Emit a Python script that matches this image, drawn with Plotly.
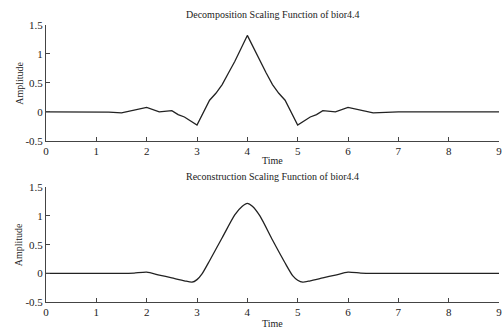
import plotly.graph_objects as go
from plotly.subplots import make_subplots

# Decomposition scaling function
dec_t = [0, 1.0, 1.25, 1.5, 2.0, 2.25, 2.5, 2.625, 2.75, 3.0, 3.25, 3.375, 3.5, 3.625, 3.75, 4.0,
         4.25, 4.375, 4.5, 4.625, 4.75, 5.0, 5.25, 5.375, 5.5, 5.75, 6.0, 6.5, 7.0, 9.0]
dec_y = [0, 0.0, -0.005, -0.02, 0.075, 0.0, 0.02, -0.05, -0.09, -0.23, 0.2, 0.32, 0.47, 0.67, 0.87, 1.32,
         0.87, 0.67, 0.47, 0.32, 0.2, -0.23, -0.09, -0.05, 0.02, 0.0, 0.075, -0.02, 0.0, 0.0]

# Reconstruction scaling function
rec_t = [0, 1.0, 1.5, 1.75, 2.0, 2.25, 2.5, 2.75, 2.9, 3.0, 3.1, 3.25, 3.5, 3.75, 3.9, 4.0,
         4.1, 4.25, 4.5, 4.75, 4.9, 5.0, 5.1, 5.25, 5.5, 5.75, 6.0, 6.25, 6.5, 7.0, 9.0]
rec_y = [0, 0.0, 0.0, 0.005, 0.02, -0.03, -0.08, -0.13, -0.155, -0.11, -0.01, 0.22, 0.62, 1.02, 1.17, 1.22,
         1.17, 1.0, 0.58, 0.18, -0.04, -0.12, -0.155, -0.13, -0.08, -0.03, 0.02, 0.005, 0.0, 0.0, 0.0]

x_ticks = [0, 1, 2, 3, 4, 5, 6, 7, 8, 9]
y_ticks = [-0.5, 0, 0.5, 1, 1.5]
y_ticktext = ["-0.5", "0", "0.5", "1", "1.5"]

title_top = "Decomposition Scaling Function of bior4.4"
title_bot = "Reconstruction Scaling Function of bior4.4"

W, H = 503, 329
ml, mr, mt, mb = 45.5, 1, 25, 27
pw = W - ml - mr
ph = H - mt - mb

def py(p):
    return (H - mb - p) / ph

def px(p):
    return (p - ml) / pw

fig = make_subplots(rows=2, cols=1)
fig.add_trace(go.Scatter(x=dec_t, y=dec_y, mode="lines",
                         line=dict(color="#222222", width=1.3)), row=1, col=1)
fig.add_trace(go.Scatter(x=rec_t, y=rec_y, mode="lines", line_shape="spline",
                         line=dict(color="#222222", width=1.3, smoothing=0.6)), row=2, col=1)

font = dict(family="Liberation Serif, Times New Roman, serif", size=10, color="#222")
tfont = dict(family="Liberation Serif, Times New Roman, serif", size=11, color="#222")

axis_common = dict(showline=True, linecolor="#444", linewidth=1, mirror=False,
                   ticks="inside", ticklen=4, tickcolor="#444", showgrid=False,
                   zeroline=False, tickfont=tfont, ticklabeloverflow="allow")

fig.update_xaxes(range=[0, 9], tickvals=x_ticks, **axis_common)
fig.update_yaxes(range=[-0.5, 1.5], tickvals=y_ticks, ticktext=y_ticktext, **axis_common)

fig.update_layout(
    xaxis=dict(domain=[0, 1]), xaxis2=dict(domain=[0, 1]),
    yaxis=dict(domain=[py(140.7), 1]),
    yaxis2=dict(domain=[0, py(187.3)]),
)

ann = [
    dict(text=title_top, x=0.5, y=py(15)),
    dict(text="Time", x=0.5, y=py(160)),
    dict(text=title_bot, x=0.5, y=py(176.5)),
    dict(text="Time", x=0.5, y=py(323)),
    dict(text="Amplitude", x=px(18), y=py(83), textangle=-90),
    dict(text="Amplitude", x=px(18), y=py(244.6), textangle=-90),
]
for a in ann:
    a.update(xref="paper", yref="paper", showarrow=False, font=font,
             xanchor="center", yanchor="middle")

fig.update_layout(
    width=W, height=H,
    margin=dict(l=ml, r=mr, t=mt, b=mb),
    paper_bgcolor="white", plot_bgcolor="white",
    showlegend=False, annotations=ann,
    font=font,
)

fig.write_html("out.html")
